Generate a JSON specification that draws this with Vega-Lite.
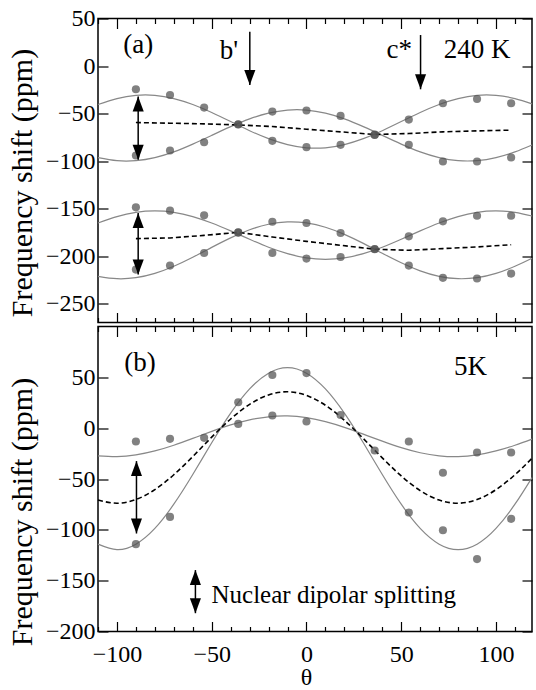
{
  "$schema": "https://vega.github.io/schema/vega-lite/v6.json",
  "padding": {"left": 6, "top": 5.5, "right": 0, "bottom": 0},
  "spacing": 0,
  "background": "white",
  "config": {
    "view": {"stroke": "black", "strokeWidth": 1.5},
    "font": "Liberation Serif",
    "axis": {"grid": false, "domain": false, "tickColor": "black", "tickWidth": 1.2, "labelFont": "Liberation Serif", "titleFont": "Liberation Serif", "labelFontSize": 24, "labelColor": "black", "titleColor": "black", "titleFontWeight": "normal", "labelOverlap": false, "labelFlush": false}
  },
  "datasets": {
    "pts": [
      {"panel":"a","theta":-90,"y":-24.5},{"panel":"a","theta":-90,"y":-94.2},{"panel":"a","theta":-72,"y":-30.5},{"panel":"a","theta":-72,"y":-88.9},
      {"panel":"a","theta":-54,"y":-43.8},{"panel":"a","theta":-54,"y":-80.2},{"panel":"a","theta":-36,"y":-61.3},{"panel":"a","theta":-36,"y":-61.6},
      {"panel":"a","theta":-18,"y":-48},{"panel":"a","theta":-18,"y":-78.8},{"panel":"a","theta":0,"y":-46.9},{"panel":"a","theta":0,"y":-85.4},
      {"panel":"a","theta":18,"y":-52.5},{"panel":"a","theta":18,"y":-83},{"panel":"a","theta":36,"y":-72.5},{"panel":"a","theta":36,"y":-72.3},
      {"panel":"a","theta":54,"y":-56.4},{"panel":"a","theta":54,"y":-83},{"panel":"a","theta":72,"y":-39.2},{"panel":"a","theta":72,"y":-100.5},
      {"panel":"a","theta":90,"y":-34.7},{"panel":"a","theta":90,"y":-100.5},{"panel":"a","theta":108,"y":-39.2},{"panel":"a","theta":108,"y":-96.3},
      {"panel":"a","theta":-90,"y":-148.8},{"panel":"a","theta":-90,"y":-214.3},{"panel":"a","theta":-72,"y":-152.3},{"panel":"a","theta":-72,"y":-210.1},
      {"panel":"a","theta":-54,"y":-157.2},{"panel":"a","theta":-54,"y":-196.8},{"panel":"a","theta":-36,"y":-175.1},{"panel":"a","theta":-36,"y":-175.4},
      {"panel":"a","theta":-18,"y":-163.9},{"panel":"a","theta":-18,"y":-196.8},{"panel":"a","theta":0,"y":-165.3},{"panel":"a","theta":0,"y":-202.7},
      {"panel":"a","theta":18,"y":-175.8},{"panel":"a","theta":18,"y":-201},{"panel":"a","theta":36,"y":-192.6},{"panel":"a","theta":36,"y":-192.9},
      {"panel":"a","theta":54,"y":-179.3},{"panel":"a","theta":54,"y":-210.1},{"panel":"a","theta":72,"y":-163.5},{"panel":"a","theta":72,"y":-223},
      {"panel":"a","theta":90,"y":-157.6},{"panel":"a","theta":90,"y":-223.7},{"panel":"a","theta":108,"y":-157.6},{"panel":"a","theta":108,"y":-218.5},
      {"panel":"b","theta":-90,"y":-13.1},{"panel":"b","theta":-90,"y":-114.1},{"panel":"b","theta":-72,"y":-10.5},{"panel":"b","theta":-72,"y":-87.3},
      {"panel":"b","theta":-54,"y":-9.5},{"panel":"b","theta":-36,"y":25.5},{"panel":"b","theta":-36,"y":4.2},{"panel":"b","theta":-18,"y":52.3},
      {"panel":"b","theta":-18,"y":12.4},{"panel":"b","theta":0,"y":54.2},{"panel":"b","theta":0,"y":6.5},{"panel":"b","theta":18,"y":13},
      {"panel":"b","theta":36,"y":-22},{"panel":"b","theta":54,"y":-13.1},{"panel":"b","theta":54,"y":-83},{"panel":"b","theta":72,"y":-43.8},
      {"panel":"b","theta":72,"y":-100.4},{"panel":"b","theta":90,"y":-23.9},{"panel":"b","theta":90,"y":-128.8},{"panel":"b","theta":108,"y":-23.9},
      {"panel":"b","theta":108,"y":-89.2}
    ],
    "fits": [
      {"panel":"a","curve":"A","theta":-110,"y":-40.5},{"panel":"a","curve":"A","theta":-100,"y":-34.3},{"panel":"a","curve":"A","theta":-90,"y":-30.9},{"panel":"a","curve":"A","theta":-80,"y":-30.9},{"panel":"a","curve":"A","theta":-70,"y":-34.3},{"panel":"a","curve":"A","theta":-60,"y":-40.5},{"panel":"a","curve":"A","theta":-50,"y":-48.9},{"panel":"a","curve":"A","theta":-40,"y":-58.5},{"panel":"a","curve":"A","theta":-30,"y":-68.1},{"panel":"a","curve":"A","theta":-20,"y":-76.5},{"panel":"a","curve":"A","theta":-10,"y":-82.7},{"panel":"a","curve":"A","theta":0,"y":-86.1},{"panel":"a","curve":"A","theta":10,"y":-86.1},{"panel":"a","curve":"A","theta":20,"y":-82.7},{"panel":"a","curve":"A","theta":30,"y":-76.5},{"panel":"a","curve":"A","theta":40,"y":-68.1},{"panel":"a","curve":"A","theta":50,"y":-58.5},{"panel":"a","curve":"A","theta":60,"y":-48.9},{"panel":"a","curve":"A","theta":70,"y":-40.5},{"panel":"a","curve":"A","theta":80,"y":-34.3},{"panel":"a","curve":"A","theta":90,"y":-30.9},{"panel":"a","curve":"A","theta":100,"y":-30.9},{"panel":"a","curve":"A","theta":110,"y":-34.3},{"panel":"a","curve":"A","theta":119,"y":-39.8},
      {"panel":"a","curve":"B","theta":-110,"y":-96.4},{"panel":"a","curve":"B","theta":-100,"y":-99.6},{"panel":"a","curve":"B","theta":-90,"y":-99.6},{"panel":"a","curve":"B","theta":-80,"y":-96.4},{"panel":"a","curve":"B","theta":-70,"y":-90.4},{"panel":"a","curve":"B","theta":-60,"y":-82.2},{"panel":"a","curve":"B","theta":-50,"y":-73},{"panel":"a","curve":"B","theta":-40,"y":-63.8},{"panel":"a","curve":"B","theta":-30,"y":-55.6},{"panel":"a","curve":"B","theta":-20,"y":-49.6},{"panel":"a","curve":"B","theta":-10,"y":-46.4},{"panel":"a","curve":"B","theta":0,"y":-46.4},{"panel":"a","curve":"B","theta":10,"y":-49.6},{"panel":"a","curve":"B","theta":20,"y":-55.6},{"panel":"a","curve":"B","theta":30,"y":-63.8},{"panel":"a","curve":"B","theta":40,"y":-73},{"panel":"a","curve":"B","theta":50,"y":-82.2},{"panel":"a","curve":"B","theta":60,"y":-90.4},{"panel":"a","curve":"B","theta":70,"y":-96.4},{"panel":"a","curve":"B","theta":80,"y":-99.6},{"panel":"a","curve":"B","theta":90,"y":-99.6},{"panel":"a","curve":"B","theta":100,"y":-96.4},{"panel":"a","curve":"B","theta":110,"y":-90.4},{"panel":"a","curve":"B","theta":119,"y":-83.1},
      {"panel":"a","curve":"C","theta":-110,"y":-165.3},{"panel":"a","curve":"C","theta":-100,"y":-158.5},{"panel":"a","curve":"C","theta":-90,"y":-154},{"panel":"a","curve":"C","theta":-80,"y":-152.5},{"panel":"a","curve":"C","theta":-70,"y":-154},{"panel":"a","curve":"C","theta":-60,"y":-158.5},{"panel":"a","curve":"C","theta":-50,"y":-165.3},{"panel":"a","curve":"C","theta":-40,"y":-173.6},{"panel":"a","curve":"C","theta":-30,"y":-182.4},{"panel":"a","curve":"C","theta":-20,"y":-190.8},{"panel":"a","curve":"C","theta":-10,"y":-197.5},{"panel":"a","curve":"C","theta":0,"y":-202},{"panel":"a","curve":"C","theta":10,"y":-203.5},{"panel":"a","curve":"C","theta":20,"y":-202},{"panel":"a","curve":"C","theta":30,"y":-197.5},{"panel":"a","curve":"C","theta":40,"y":-190.8},{"panel":"a","curve":"C","theta":50,"y":-182.4},{"panel":"a","curve":"C","theta":60,"y":-173.6},{"panel":"a","curve":"C","theta":70,"y":-165.3},{"panel":"a","curve":"C","theta":80,"y":-158.5},{"panel":"a","curve":"C","theta":90,"y":-154},{"panel":"a","curve":"C","theta":100,"y":-152.5},{"panel":"a","curve":"C","theta":110,"y":-154},{"panel":"a","curve":"C","theta":119,"y":-157.9},
      {"panel":"a","curve":"D","theta":-110,"y":-221.4},{"panel":"a","curve":"D","theta":-100,"y":-223.9},{"panel":"a","curve":"D","theta":-90,"y":-222.8},{"panel":"a","curve":"D","theta":-80,"y":-218.3},{"panel":"a","curve":"D","theta":-70,"y":-210.8},{"panel":"a","curve":"D","theta":-60,"y":-201.3},{"panel":"a","curve":"D","theta":-50,"y":-190.9},{"panel":"a","curve":"D","theta":-40,"y":-180.9},{"panel":"a","curve":"D","theta":-30,"y":-172.4},{"panel":"a","curve":"D","theta":-20,"y":-166.6},{"panel":"a","curve":"D","theta":-10,"y":-164.1},{"panel":"a","curve":"D","theta":0,"y":-165.2},{"panel":"a","curve":"D","theta":10,"y":-169.7},{"panel":"a","curve":"D","theta":20,"y":-177.2},{"panel":"a","curve":"D","theta":30,"y":-186.7},{"panel":"a","curve":"D","theta":40,"y":-197.1},{"panel":"a","curve":"D","theta":50,"y":-207.1},{"panel":"a","curve":"D","theta":60,"y":-215.6},{"panel":"a","curve":"D","theta":70,"y":-221.4},{"panel":"a","curve":"D","theta":80,"y":-223.9},{"panel":"a","curve":"D","theta":90,"y":-222.8},{"panel":"a","curve":"D","theta":100,"y":-218.3},{"panel":"a","curve":"D","theta":110,"y":-210.8},{"panel":"a","curve":"D","theta":119,"y":-202.3},
      {"panel":"b","curve":"E","theta":-110,"y":-27.2},{"panel":"b","curve":"E","theta":-100,"y":-28},{"panel":"b","curve":"E","theta":-90,"y":-26.3},{"panel":"b","curve":"E","theta":-80,"y":-22.4},{"panel":"b","curve":"E","theta":-70,"y":-16.8},{"panel":"b","curve":"E","theta":-60,"y":-10.1},{"panel":"b","curve":"E","theta":-50,"y":-3.2},{"panel":"b","curve":"E","theta":-40,"y":3.2},{"panel":"b","curve":"E","theta":-30,"y":8.2},{"panel":"b","curve":"E","theta":-20,"y":11.2},{"panel":"b","curve":"E","theta":-10,"y":12},{"panel":"b","curve":"E","theta":0,"y":10.3},{"panel":"b","curve":"E","theta":10,"y":6.4},{"panel":"b","curve":"E","theta":20,"y":0.8},{"panel":"b","curve":"E","theta":30,"y":-5.9},{"panel":"b","curve":"E","theta":40,"y":-12.8},{"panel":"b","curve":"E","theta":50,"y":-19.2},{"panel":"b","curve":"E","theta":60,"y":-24.2},{"panel":"b","curve":"E","theta":70,"y":-27.2},{"panel":"b","curve":"E","theta":80,"y":-28},{"panel":"b","curve":"E","theta":90,"y":-26.3},{"panel":"b","curve":"E","theta":100,"y":-22.4},{"panel":"b","curve":"E","theta":110,"y":-16.8},{"panel":"b","curve":"E","theta":119,"y":-10.8},
      {"panel":"b","curve":"F","theta":-110,"y":-114.1},{"panel":"b","curve":"F","theta":-100,"y":-119.5},{"panel":"b","curve":"F","theta":-90,"y":-114.1},{"panel":"b","curve":"F","theta":-80,"y":-98.6},{"panel":"b","curve":"F","theta":-70,"y":-74.8},{"panel":"b","curve":"F","theta":-60,"y":-45.6},{"panel":"b","curve":"F","theta":-50,"y":-14.4},{"panel":"b","curve":"F","theta":-40,"y":14.8},{"panel":"b","curve":"F","theta":-30,"y":38.6},{"panel":"b","curve":"F","theta":-20,"y":54.1},{"panel":"b","curve":"F","theta":-10,"y":59.5},{"panel":"b","curve":"F","theta":0,"y":54.1},{"panel":"b","curve":"F","theta":10,"y":38.6},{"panel":"b","curve":"F","theta":20,"y":14.8},{"panel":"b","curve":"F","theta":30,"y":-14.4},{"panel":"b","curve":"F","theta":40,"y":-45.6},{"panel":"b","curve":"F","theta":50,"y":-74.8},{"panel":"b","curve":"F","theta":60,"y":-98.6},{"panel":"b","curve":"F","theta":70,"y":-114.1},{"panel":"b","curve":"F","theta":80,"y":-119.5},{"panel":"b","curve":"F","theta":90,"y":-114.1},{"panel":"b","curve":"F","theta":100,"y":-98.6},{"panel":"b","curve":"F","theta":110,"y":-74.8},{"panel":"b","curve":"F","theta":119,"y":-48.6}
    ],
    "avg": [
      {"panel":"a","curve":"m1","theta":-90,"y":-59.5},{"panel":"a","curve":"m1","theta":-72,"y":-60.2},{"panel":"a","curve":"m1","theta":-54,"y":-60.9},{"panel":"a","curve":"m1","theta":-36,"y":-62},{"panel":"a","curve":"m1","theta":-18,"y":-63.7},{"panel":"a","curve":"m1","theta":0,"y":-66.5},{"panel":"a","curve":"m1","theta":18,"y":-69.3},{"panel":"a","curve":"m1","theta":36,"y":-72.1},{"panel":"a","curve":"m1","theta":54,"y":-71.1},{"panel":"a","curve":"m1","theta":72,"y":-69.3},{"panel":"a","curve":"m1","theta":90,"y":-68.3},{"panel":"a","curve":"m1","theta":108,"y":-67.5},
      {"panel":"a","curve":"m2","theta":-90,"y":-181.7},{"panel":"a","curve":"m2","theta":-72,"y":-181},{"panel":"a","curve":"m2","theta":-54,"y":-178.3},{"panel":"a","curve":"m2","theta":-36,"y":-175.1},{"panel":"a","curve":"m2","theta":-18,"y":-180},{"panel":"a","curve":"m2","theta":0,"y":-184.6},{"panel":"a","curve":"m2","theta":18,"y":-188.7},{"panel":"a","curve":"m2","theta":36,"y":-192.9},{"panel":"a","curve":"m2","theta":54,"y":-194},{"panel":"a","curve":"m2","theta":72,"y":-192.2},{"panel":"a","curve":"m2","theta":90,"y":-190.5},{"panel":"a","curve":"m2","theta":108,"y":-188.1},
      {"panel":"b","curve":"m3","theta":-110,"y":-70.7},{"panel":"b","curve":"m3","theta":-100,"y":-73.8},{"panel":"b","curve":"m3","theta":-90,"y":-70.2},{"panel":"b","curve":"m3","theta":-80,"y":-60.5},{"panel":"b","curve":"m3","theta":-70,"y":-45.8},{"panel":"b","curve":"m3","theta":-60,"y":-27.9},{"panel":"b","curve":"m3","theta":-50,"y":-8.8},{"panel":"b","curve":"m3","theta":-40,"y":9},{"panel":"b","curve":"m3","theta":-30,"y":23.4},{"panel":"b","curve":"m3","theta":-20,"y":32.7},{"panel":"b","curve":"m3","theta":-10,"y":35.8},{"panel":"b","curve":"m3","theta":0,"y":32.2},{"panel":"b","curve":"m3","theta":10,"y":22.5},{"panel":"b","curve":"m3","theta":20,"y":7.8},{"panel":"b","curve":"m3","theta":30,"y":-10.2},{"panel":"b","curve":"m3","theta":40,"y":-29.2},{"panel":"b","curve":"m3","theta":50,"y":-47},{"panel":"b","curve":"m3","theta":60,"y":-61.4},{"panel":"b","curve":"m3","theta":70,"y":-70.7},{"panel":"b","curve":"m3","theta":80,"y":-73.8},{"panel":"b","curve":"m3","theta":90,"y":-70.2},{"panel":"b","curve":"m3","theta":100,"y":-60.5},{"panel":"b","curve":"m3","theta":110,"y":-45.8},{"panel":"b","curve":"m3","theta":119,"y":-29.7}
    ],
    "shafts": [
      {"panel":"a","theta":-88.8,"y":-32.2,"y2":-98.7},{"panel":"a","theta":-88.8,"y":-154.7,"y2":-219.5},
      {"panel":"a","theta":-29.9,"y":36,"y2":-20},{"panel":"a","theta":60.2,"y":32.6,"y2":-24.5},
      {"panel":"b","theta":-89.7,"y":-32.4,"y2":-103.6},{"panel":"b","theta":-58.6,"y":-139.6,"y2":-182}
    ],
    "heads": [
      {"panel":"a","theta":-88.8,"y":-32.2,"dir":"up"},{"panel":"a","theta":-88.8,"y":-98.7,"dir":"down"},
      {"panel":"a","theta":-88.8,"y":-154.7,"dir":"up"},{"panel":"a","theta":-88.8,"y":-219.5,"dir":"down"},
      {"panel":"a","theta":-29.9,"y":-20,"dir":"down"},{"panel":"a","theta":60.2,"y":-24.5,"dir":"down"},
      {"panel":"b","theta":-89.7,"y":-32.4,"dir":"up"},{"panel":"b","theta":-89.7,"y":-103.6,"dir":"down"},
      {"panel":"b","theta":-58.6,"y":-139.6,"dir":"up"},{"panel":"b","theta":-58.6,"y":-182,"dir":"down"}
    ],
    "texts": [
      {"panel":"a","kind":"big","theta":-96.7,"y":13.3,"label":"(a)"},
      {"panel":"a","kind":"big","theta":-45.7,"y":7.4,"label":"b'"},
      {"panel":"a","kind":"big","theta":42.2,"y":8,"label":"c*"},
      {"panel":"a","kind":"big","theta":72.5,"y":8,"label":"240 K"},
      {"panel":"b","kind":"big","theta":-96.2,"y":56.5,"label":"(b)"},
      {"panel":"b","kind":"big","theta":77.9,"y":52.5,"label":"5K"},
      {"panel":"b","kind":"small","theta":-50.1,"y":-171.6,"label":"Nuclear dipolar splitting"}
    ]
  },
  "vconcat": [
    {
      "width": 434,
      "height": 304,
      "resolve": {"axis": {"x": "independent", "y": "independent"}},
      "layer": [
        {
          "data": {"name": "fits"},
          "transform": [{"filter": "datum.panel === 'a'"}],
          "mark": {"type": "line", "color": "#888888", "strokeWidth": 1.2, "interpolate": "natural"},
          "encoding": {
            "x": {"field": "theta", "type": "quantitative", "scale": {"domain": [-110, 119], "nice": false, "zero": false},
                  "axis": {"orient": "bottom", "values": [-110,-100,-90,-80,-70,-60,-50,-40,-30,-20,-10,0,10,20,30,40,50,60,70,80,90,100,110], "labels": false, "title": null,
                           "tickSize": {"condition": {"test": "datum.value % 50 === 0", "value": -10}, "value": -5}}},
            "y": {"field": "y", "type": "quantitative", "scale": {"domain": [-270, 50], "nice": false, "zero": false},
                  "axis": {"orient": "left", "values": [50,0,-50,-100,-150,-200,-250], "tickSize": -10, "labelPadding": 13,
                           "title": "Frequency shift (ppm)", "titleFontSize": 30, "titleX": -67, "titleY": 164, "titleBaseline": "alphabetic"}},
            "detail": {"field": "curve"}
          }
        },
        {
          "data": {"name": "avg"},
          "transform": [{"filter": "datum.panel === 'a'"}],
          "mark": {"type": "line", "color": "black", "strokeWidth": 1.6, "strokeDash": [5, 3], "interpolate": "linear"},
          "encoding": {
            "x": {"field": "theta", "type": "quantitative", "scale": {"domain": [-110, 119], "nice": false, "zero": false},
                  "axis": {"orient": "top", "values": [-110,-100,-90,-80,-70,-60,-50,-40,-30,-20,-10,0,10,20,30,40,50,60,70,80,90,100,110], "labels": false, "title": null,
                           "tickSize": {"condition": {"test": "datum.value % 50 === 0", "value": -10}, "value": -5}}},
            "y": {"field": "y", "type": "quantitative", "scale": {"domain": [-270, 50], "nice": false, "zero": false},
                  "axis": {"orient": "right", "values": [50,0,-50,-100,-150,-200,-250], "tickSize": -10, "labels": false, "title": null}},
            "detail": {"field": "curve"}
          }
        },
        {
          "data": {"name": "pts"},
          "transform": [{"filter": "datum.panel === 'a'"}],
          "mark": {"type": "circle", "color": "#505050", "opacity": 0.72, "size": 66},
          "encoding": {
            "x": {"field": "theta", "type": "quantitative", "axis": null},
            "y": {"field": "y", "type": "quantitative", "axis": null}
          }
        },
        {
          "data": {"name": "shafts"},
          "transform": [{"filter": "datum.panel === 'a'"}],
          "mark": {"type": "rule", "color": "black", "strokeWidth": 1.5},
          "encoding": {
            "x": {"field": "theta", "type": "quantitative", "axis": null},
            "y": {"field": "y", "type": "quantitative", "axis": null},
            "y2": {"field": "y2"}
          }
        },
        {
          "data": {"name": "heads"},
          "transform": [{"filter": "datum.panel === 'a'"}],
          "mark": {"type": "point", "filled": true, "color": "black", "opacity": 1, "size": 900, "strokeWidth": 0},
          "encoding": {
            "x": {"field": "theta", "type": "quantitative", "axis": null},
            "y": {"field": "y", "type": "quantitative", "axis": null},
            "shape": {"field": "dir", "type": "nominal", "legend": null,
                      "scale": {"domain": ["up", "down"], "range": ["M0,0L-0.37,1L0.37,1Z", "M0,0L-0.37,-1L0.37,-1Z"]}}
          }
        },
        {
          "data": {"name": "texts"},
          "transform": [{"filter": "datum.panel === 'a'"}],
          "mark": {"type": "text", "align": "left", "baseline": "alphabetic", "fontSize": 27, "font": "Liberation Serif", "color": "black"},
          "encoding": {
            "x": {"field": "theta", "type": "quantitative", "axis": null},
            "y": {"field": "y", "type": "quantitative", "axis": null},
            "text": {"field": "label"}
          }
        }
      ]
    },
    {
      "width": 434,
      "height": 305,
      "resolve": {"axis": {"x": "independent", "y": "independent"}},
      "layer": [
        {
          "data": {"name": "fits"},
          "transform": [{"filter": "datum.panel === 'b'"}],
          "mark": {"type": "line", "color": "#888888", "strokeWidth": 1.2, "interpolate": "natural"},
          "encoding": {
            "x": {"field": "theta", "type": "quantitative", "scale": {"domain": [-110, 119], "nice": false, "zero": false},
                  "axis": {"orient": "bottom", "values": [-110,-100,-90,-80,-70,-60,-50,-40,-30,-20,-10,0,10,20,30,40,50,60,70,80,90,100,110],
                           "labelExpr": "datum.value % 50 === 0 ? datum.label : ''", "labelPadding": 20.7,
                           "tickSize": {"condition": {"test": "datum.value % 50 === 0", "value": -10}, "value": -5},
                           "title": "θ", "titleFontSize": 24, "titleX": 208, "titleY": 53, "titleBaseline": "alphabetic"}},
            "y": {"field": "y", "type": "quantitative", "scale": {"domain": [-200, 100], "nice": false, "zero": false},
                  "axis": {"orient": "left", "values": [50,0,-50,-100,-150,-200], "tickSize": -10, "labelPadding": 13,
                           "title": "Frequency shift (ppm)", "titleFontSize": 30, "titleX": -67, "titleY": 185, "titleBaseline": "alphabetic"}},
            "detail": {"field": "curve"}
          }
        },
        {
          "data": {"name": "avg"},
          "transform": [{"filter": "datum.panel === 'b'"}],
          "mark": {"type": "line", "color": "black", "strokeWidth": 1.6, "strokeDash": [5, 3], "interpolate": "natural"},
          "encoding": {
            "x": {"field": "theta", "type": "quantitative", "scale": {"domain": [-110, 119], "nice": false, "zero": false},
                  "axis": {"orient": "top", "values": [-110,-100,-90,-80,-70,-60,-50,-40,-30,-20,-10,0,10,20,30,40,50,60,70,80,90,100,110], "labels": false, "title": null,
                           "tickSize": {"condition": {"test": "datum.value % 50 === 0", "value": -10}, "value": -5}}},
            "y": {"field": "y", "type": "quantitative", "scale": {"domain": [-200, 100], "nice": false, "zero": false},
                  "axis": {"orient": "right", "values": [50,0,-50,-100,-150,-200], "tickSize": -10, "labels": false, "title": null}},
            "detail": {"field": "curve"}
          }
        },
        {
          "data": {"name": "pts"},
          "transform": [{"filter": "datum.panel === 'b'"}],
          "mark": {"type": "circle", "color": "#505050", "opacity": 0.72, "size": 66},
          "encoding": {
            "x": {"field": "theta", "type": "quantitative", "axis": null},
            "y": {"field": "y", "type": "quantitative", "axis": null}
          }
        },
        {
          "data": {"name": "shafts"},
          "transform": [{"filter": "datum.panel === 'b'"}],
          "mark": {"type": "rule", "color": "black", "strokeWidth": 1.5},
          "encoding": {
            "x": {"field": "theta", "type": "quantitative", "axis": null},
            "y": {"field": "y", "type": "quantitative", "axis": null},
            "y2": {"field": "y2"}
          }
        },
        {
          "data": {"name": "heads"},
          "transform": [{"filter": "datum.panel === 'b'"}],
          "mark": {"type": "point", "filled": true, "color": "black", "opacity": 1, "size": 900, "strokeWidth": 0},
          "encoding": {
            "x": {"field": "theta", "type": "quantitative", "axis": null},
            "y": {"field": "y", "type": "quantitative", "axis": null},
            "shape": {"field": "dir", "type": "nominal", "legend": null,
                      "scale": {"domain": ["up", "down"], "range": ["M0,0L-0.37,1L0.37,1Z", "M0,0L-0.37,-1L0.37,-1Z"]}}
          }
        },
        {
          "data": {"name": "texts"},
          "transform": [{"filter": "datum.panel === 'b' && datum.kind === 'big'"}],
          "mark": {"type": "text", "align": "left", "baseline": "alphabetic", "fontSize": 27, "font": "Liberation Serif", "color": "black"},
          "encoding": {
            "x": {"field": "theta", "type": "quantitative", "axis": null},
            "y": {"field": "y", "type": "quantitative", "axis": null},
            "text": {"field": "label"}
          }
        },
        {
          "data": {"name": "texts"},
          "transform": [{"filter": "datum.panel === 'b' && datum.kind === 'small'"}],
          "mark": {"type": "text", "align": "left", "baseline": "alphabetic", "fontSize": 25, "font": "Liberation Serif", "color": "black"},
          "encoding": {
            "x": {"field": "theta", "type": "quantitative", "axis": null},
            "y": {"field": "y", "type": "quantitative", "axis": null},
            "text": {"field": "label"}
          }
        }
      ]
    }
  ]
}
